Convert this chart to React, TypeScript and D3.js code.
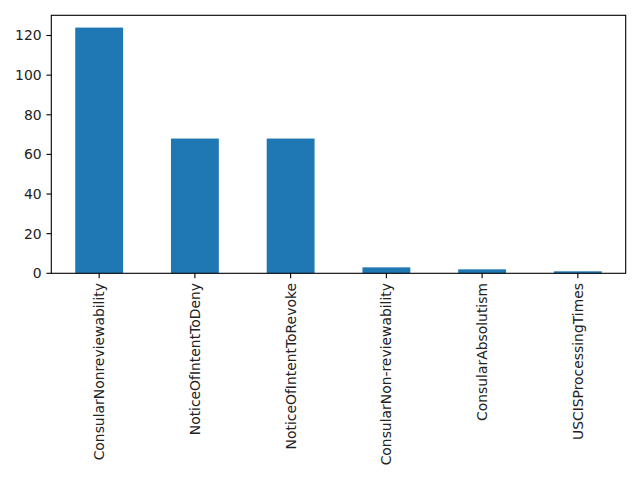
import React from 'react';
import * as d3 from 'd3';

const categories = [
  'ConsularNonreviewability',
  'NoticeOfIntentToDeny',
  'NoticeOfIntentToRevoke',
  'ConsularNon-reviewability',
  'ConsularAbsolutism',
  'USCISProcessingTimes',
];
const counts = [124, 68, 68, 3, 2, 1];
const yTicks = [0, 20, 40, 60, 80, 100, 120];

const W = 640;
const H = 480;
const margin = { top: 15.3, right: 14.3, bottom: 206.7, left: 51.3 };
const FONT = '"DejaVu Sans", sans-serif';
const FS = 13.9;
const TICK = 4.86;
const PAD = 4.86;

export default function App() {
  const innerW = W - margin.left - margin.right;
  const innerH = H - margin.top - margin.bottom;

  const x = d3.scaleBand<string>()
    .domain(categories)
    .range([0, innerW])
    .paddingInner(0.5)
    .paddingOuter(0.25);

  const yMax = d3.max(counts)! * 1.05;
  const y = d3.scaleLinear().domain([0, yMax]).range([innerH, 0]);

  return (
    <svg width={W} height={H} style={{ position: 'absolute', left: 0, top: 0 }}>
      <rect width={W} height={H} fill="white" />
      <g transform={`translate(${margin.left},${margin.top})`}>
        {categories.map((c, i) => (
          <rect
            key={c}
            x={x(c)}
            y={y(counts[i])}
            width={x.bandwidth()}
            height={innerH - y(counts[i])}
            fill="#1f77b4"
          />
        ))}
        <rect x={0} y={0} width={innerW} height={innerH} fill="none" stroke="black" strokeWidth={1.1} />
        {yTicks.map(t => (
          <g key={t} transform={`translate(0,${y(t)})`}>
            <line x1={-TICK} x2={0} stroke="black" strokeWidth={1.1} />
            <text
              x={-TICK - PAD}
              dy="0.35em"
              textAnchor="end"
              fontFamily={FONT}
              fontSize={FS}
              fill="#222"
            >
              {t}
            </text>
          </g>
        ))}
        {categories.map(c => {
          const cx = x(c)! + x.bandwidth() / 2;
          return (
            <g key={c} transform={`translate(${cx},${innerH})`}>
              <line y1={0} y2={TICK} stroke="black" strokeWidth={1.1} />
              <text
                transform={`translate(0,${TICK + PAD}) rotate(-90)`}
                textAnchor="end"
                dy="0.35em"
                fontFamily={FONT}
                fontSize={FS}
                fill="#222"
              >
                {c}
              </text>
            </g>
          );
        })}
      </g>
    </svg>
  );
}
